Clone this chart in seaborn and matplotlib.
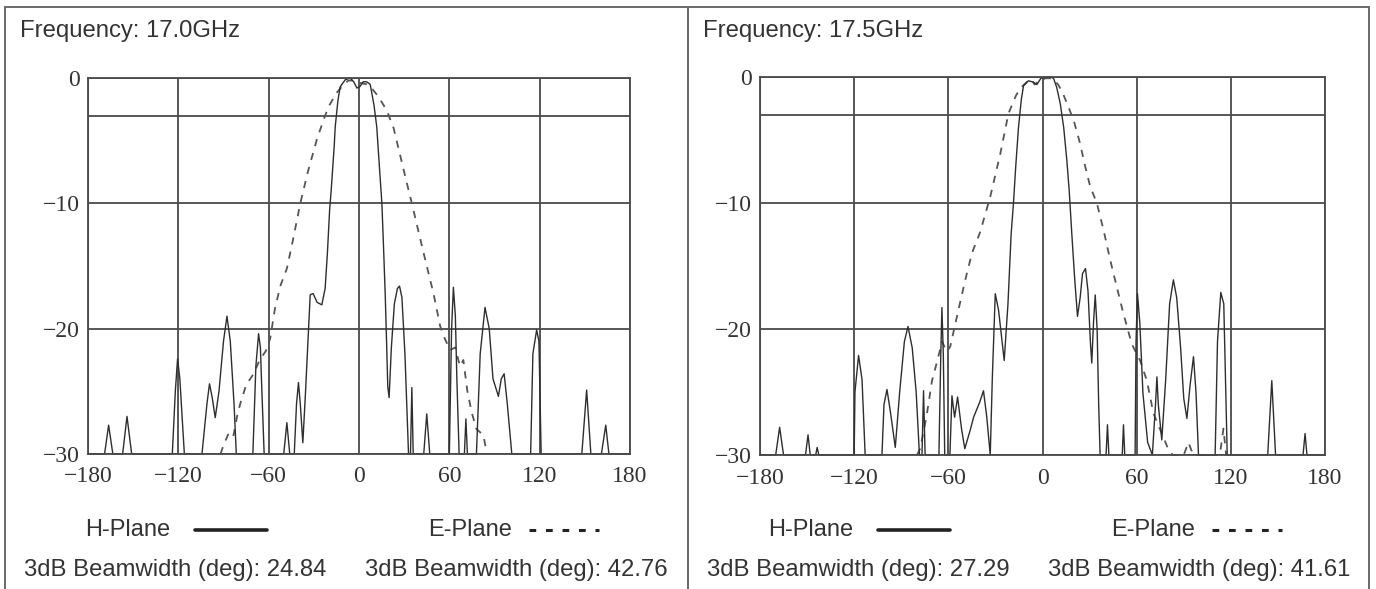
import numpy as np
import pandas as pd
import matplotlib
matplotlib.use('Agg')
import matplotlib.pyplot as plt
import seaborn as sns
from matplotlib.lines import Line2D
from matplotlib.patches import Rectangle

# ── DATA ──────────────────────────────────────────────────────────────────────
h17_ang = [-180, -169, -166.3, -163.5, -157, -154.1, -151, -124, -122, -120.5, -119, -116,
           -104.3, -101, -99.3, -97.5, -95.5, -93, -90, -87.7, -85.5, -83, -81.5,
           -70.5, -68.5, -66.7, -65.5, -64.5, -63, -50, -47.9, -46, -43, -41.5, -40.2,
           -39, -37.3, -35.5, -33.5, -32.4, -30.5, -27.8, -24.7, -22.5, -21, -19.5,
           -18.5, -16.5, -15.8, -14, -12.5, -9.2, -6, -3.5, -1.4, 0.5, 2.8, 5, 7.4,
           8.5, 10, 11.8, 13.5, 15.2, 16.3, 17.4, 18.3, 19.1, 20, 21.5, 23.5, 25.5,
           26.9, 28.5, 30.5, 32, 32.9, 34.2, 35.1, 36, 43, 45, 47, 60, 61.5, 62.7,
           64, 65, 66.5, 70, 71, 72, 78, 80.5, 83.7, 86.5, 89, 92.6, 94.5, 96.4, 98.5,
           101.5, 114, 115.5, 118, 119.5, 121, 148, 151.2, 154, 161, 163.9, 166, 180]
h17_db = [-30, -30, -27.7, -30, -30, -27.0, -30, -30, -25, -22.4, -24, -30,
          -30, -26, -24.4, -25.5, -27.1, -25, -21, -19.0, -21, -26, -30,
          -30, -23, -20.4, -21.5, -25, -30, -30, -27.5, -30, -30, -26, -24.3,
          -26, -29.1, -25, -20, -17.3, -17.2, -17.9, -18.1, -16.8, -14, -10.5,
          -9, -5.5, -3.9, -1.8, -0.7, -0.15, 0, -0.3, -0.8, -0.7, -0.3, -0.3, -0.5,
          -1.2, -2.2, -3.9, -7, -10, -13.5, -17.2, -21, -24.6, -25.5, -21.5, -18, -16.8,
          -16.6, -17.5, -22, -27, -30, -30, -24.7, -30, -30, -26.8, -30, -30, -20, -16.7,
          -19, -24, -30, -30, -27.2, -30, -30, -22, -18.3, -20, -24, -25.4, -24, -23.6, -26,
          -30, -30, -22, -20.1, -21, -30, -30, -24.9, -30, -30, -27.7, -30, -30]

e17_ang = [-92, -90, -86, -83.3, -81, -78.9, -75, -70, -66, -62, -59, -55.7, -52, -47.9,
           -44, -39, -34, -28, -24, -20.3, -15, -10, -7, -3, 1, 5, 9, 13, 18.5, 23, 28,
           31, 35.1, 40, 45, 49.5, 53.9, 57, 60.5, 64, 67, 69.3, 72, 74.9, 78, 82.6, 85]
e17_db = [-30, -29.3, -28.2, -28.5, -27, -26, -24.5, -23.6, -22.5, -21.8, -20.8, -18.3,
          -16.5, -15.2, -13, -10, -7.5, -4.9, -3.5, -2.3, -1.2, -0.5, -0.2, -0.2, -0.4,
          -0.5, -0.9, -1.5, -2.6, -4, -6.5, -8, -10, -12.5, -15, -17.2, -19.8, -20.8,
          -21.7, -21.5, -23, -22.5, -25, -26.7, -28, -28.5, -30]

h175_ang = [-180, -170, -167.5, -165, -151, -149.4, -148, -144.5, -143.6, -142.5, -120,
            -119.5, -117.2, -115, -113, -102.3, -101, -99.1, -97, -93.8, -91, -88, -85.7,
            -83, -80.5, -78.4, -76.8, -75.8, -74.8, -66, -64.8, -64.1, -63.2, -62.3, -59,
            -57.7, -56, -54.1, -51.5, -49.5, -46, -43.9, -40, -37.6, -35.5, -33.3, -32,
            -30.1, -28, -24.4, -22, -20, -18.5, -17, -15.3, -13.5, -12.1, -9, -6, -3.6,
            -1, 2, 5, 7, 9, 11.3, 13.5, 15.5, 17, 18.7, 20.5, 22.3, 24, 25.5, 27.4, 29,
            30.5, 31.4, 32.5, 33.6, 34.8, 35.8, 36.7, 40.5, 41.4, 42.3, 50.8, 51.6, 52.4,
            59, 59.6, 60.5, 62, 64, 67, 70, 72, 72.9, 73.8, 76, 78.5, 81, 83.4, 85.5, 88,
            90, 92, 94, 96.2, 97.8, 99.4, 110, 111.5, 113.6, 115.5, 117.7, 143.5, 146.1,
            148.5, 166, 167.3, 168.5, 180]
h175_db = [-30, -30, -27.8, -30, -30, -28.4, -30, -30, -29.4, -30, -30,
           -25, -22.1, -24, -30, -30, -26, -24.8, -26.5, -29.4, -25, -21, -19.8,
           -21.5, -25, -30, -30, -24.9, -30, -30, -22, -18.3, -22, -30, -30,
           -25.3, -27, -25.4, -28, -29.5, -28, -27, -25.8, -24.9, -27, -30, -24,
           -17.2, -18.5, -22.5, -18, -12.5, -10, -7, -4, -1.8, -0.7, -0.3, -0.4, -0.6,
           -0.1, 0, 0, -0.1, -0.8, -2.1, -4, -6.6, -9, -12.5, -16, -19, -17.5, -15.6, -15.2, -17,
           -21, -22.7, -19.5, -17.3, -20, -26, -30, -30, -27.6, -30, -30, -27.6, -30,
           -30, -21, -17.2, -19.5, -25.1, -29, -30, -26, -23.8, -26, -28.8, -24, -18, -16.1, -17.5, -21.5,
           -25.5, -27.1, -24.5, -22.2, -25, -30, -30, -21, -17.1, -18, -30, -30, -24.1,
           -30, -30, -28.3, -30, -30]

e175_ang = [-80, -78, -75.5, -73.6, -70.4, -67, -64, -61, -58.8, -54.5, -49.2, -45, -39.7,
            -33.3, -26.9, -21.7, -17, -14.2, -10, -7, -5, -2, 2, 6, 10, 13, 16.6, 20, 24,
            27, 30.4, 34.6, 39, 43.1, 47, 51.6, 56.9, 62.2, 66.5, 70.7, 76.7, 80, 83, 90,
            93, 96, 113, 115.3, 117]
e175_db = [-30, -29.5, -28, -26.7, -24.1, -22.5, -21, -21.8, -21.4, -19, -16.1, -14, -12.3,
           -9.5, -6.1, -2.9, -1.5, -0.9, -0.4, -0.2, -0.6, -0.3, -0.1, -0.1, -0.6, -1.3,
           -2.4, -3.5, -5.3, -7, -8.7, -10, -12.2, -14.5, -16.5, -18.8, -21.2, -22.5,
           -24.1, -26.7, -28.5, -29.5, -30, -30, -29, -30, -30, -27.9, -30]

freqs = ['17.0GHz', '17.5GHz']
bw_h = ['24.84', '27.29']
bw_e = ['42.76', '41.61']
x_ticks = [-180, -120, -60, 0, 60, 120, 180]
y_ticks = [0, -10, -20, -30]

# ── STYLE ─────────────────────────────────────────────────────────────────────
sns.set_style('white')
plt.rcParams['font.family'] = ['Liberation Sans', 'DejaVu Sans']
plt.rcParams['axes.unicode_minus'] = True

fig = plt.figure(figsize=(13.76, 5.89), dpi=100)
W, H = 1376, 589

def fx(px):
    return px / W

def fy(py):
    return 1 - py / H

panels = [
    dict(box=(5, 688), ax=(88, 630, 78, 454), h=(h17_ang, h17_db), e=(e17_ang, e17_db)),
    dict(box=(688, 1369), ax=(760, 1325, 77, 455), h=(h175_ang, h175_db), e=(e175_ang, e175_db)),
]

grid_col = '#4a4a4a'
curve_col = '#2e2e2e'

for i, p in enumerate(panels):
    bx0, bx1 = p['box']
    fig.add_artist(Rectangle((fx(bx0), fy(600)), fx(bx1 - bx0), fy(7) - fy(600),
                             fill=False, edgecolor='#6a6a6a', lw=1.4))

    x0, x1, y0, y1 = p['ax']
    ax = fig.add_axes([fx(x0), fy(y1), fx(x1 - x0), fy(y0) - fy(y1)])

    df_h = pd.DataFrame({'angle': p['h'][0], 'db': p['h'][1]})
    df_e = pd.DataFrame({'angle': p['e'][0], 'db': p['e'][1]})
    sns.lineplot(data=df_e, x='angle', y='db', ax=ax, color='#555555', lw=1.3,
                 linestyle=(0, (4, 4)), sort=False, estimator=None, clip_on=False)
    sns.lineplot(data=df_h, x='angle', y='db', ax=ax, color=curve_col, lw=1.0,
                 sort=False, estimator=None, clip_on=False)

    ax.set_xlim(-180, 180)
    ax.set_ylim(-30, 0)
    ax.set_xticks(x_ticks)
    ax.set_yticks(y_ticks)
    ax.grid(True, color=grid_col, lw=1.3)
    ax.axhline(-3, color=grid_col, lw=1.3, zorder=0.5)
    ax.set_axisbelow(True)
    for s in ax.spines.values():
        s.set_color(grid_col)
        s.set_linewidth(1.3)
    ax.tick_params(axis='both', length=5, width=1.2, color=grid_col,
                   labelsize=17, labelcolor='#333333')
    ax.tick_params(axis='y', pad=1)
    ax.tick_params(axis='x', pad=4)
    for lab in ax.get_xticklabels() + ax.get_yticklabels():
        lab.set_family(['Liberation Serif', 'DejaVu Serif'])
    ax.set_xlabel('')
    ax.set_ylabel('')

    # texts and legend under the plot
    fig.text(fx(bx0 + 15), fy(31), f'Frequency: {freqs[i]}', fontsize=17.2,
             color='#333333', va='center', ha='left')
    fig.text(fx(bx0 + 80), fy(530), 'H-Plane', fontsize=17, color='#333333',
             va='center', ha='left')
    fig.add_artist(Line2D([fx(bx0 + 190), fx(bx0 + 262)], [fy(530), fy(530)],
                          color='#222222', lw=2.6))
    fig.text(fx(bx0 + 423), fy(530), 'E-Plane', fontsize=17, color='#333333',
             va='center', ha='left')
    fig.add_artist(Line2D([fx(bx0 + 524), fx(bx0 + 594)], [fy(530), fy(530)],
                          color='#222222', lw=2.2, linestyle=(0, (2.2, 3.2))))
    fig.text(fx(bx0 + 19), fy(570), f'3dB Beamwidth (deg): {bw_h[i]}', fontsize=17.2,
             color='#333333', va='center', ha='left')
    fig.text(fx(bx0 + 360), fy(570), f'3dB Beamwidth (deg): {bw_e[i]}', fontsize=17.2,
             color='#333333', va='center', ha='left')

plt.savefig('out.png', dpi=100)
plt.close()
